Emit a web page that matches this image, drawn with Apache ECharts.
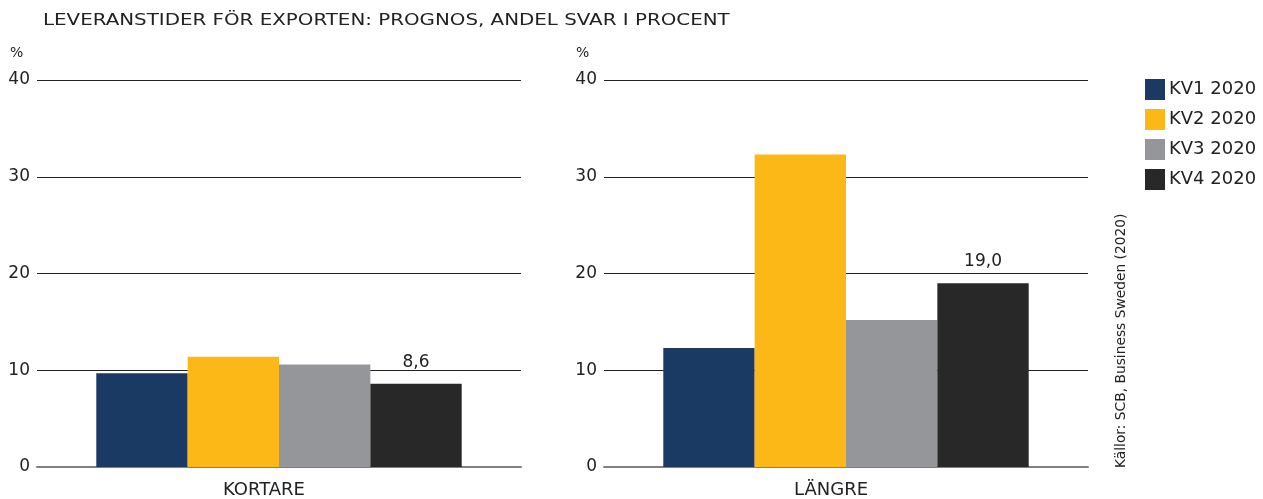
<!DOCTYPE html>
<html>
<head>
<meta charset="utf-8">
<script src="https://cdn.jsdelivr.net/npm/echarts@6/dist/echarts.min.js"></script>
<style>
  html, body { margin: 0; padding: 0; background: #fff; }
  #chart { width: 1263px; height: 499px; }
</style>
</head>
<body>
<div id="chart"></div>
<script>
// data
var seriesNames = ['KV1 2020', 'KV2 2020', 'KV3 2020', 'KV4 2020'];
var colors = ['#1a3a64', '#fbb817', '#959699', '#282828'];
var kortare = [9.7, 11.4, 10.6, 8.6];
var langre = [12.3, 32.3, 15.2, 19.0];
var panels = ['KORTARE', 'LÄNGRE'];
var labelSeries = 3; // bara KV4 har etikett

var font = 'DejaVu Sans';

function yAxis(i) {
  return {
    gridIndex: i, min: 0, max: 40, interval: 10,
    axisLine: { show: false }, axisTick: { show: false },
    axisLabel: { color: '#222', fontSize: 17, fontFamily: font, margin: 7, padding: [2, 0, 0, 0] },
    splitLine: { lineStyle: { color: '#222', width: 1 } }
  };
}
function xAxis(i) {
  return {
    type: 'category', gridIndex: i, data: [panels[i]],
    axisLine: { lineStyle: { color: '#808080', width: 2 } },
    axisTick: { show: false },
    axisLabel: { color: '#222', fontSize: 18, fontFamily: font, margin: 14, padding: [0, 30, 0, 0] }
  };
}

var series = [];
[kortare, langre].forEach(function (vals, p) {
  for (var i = 0; i < seriesNames.length; i++) {
    series.push({
      name: seriesNames[i], type: 'bar',
      xAxisIndex: p, yAxisIndex: p,
      data: [vals[i]],
      barGap: 0, barCategoryGap: '24.5%',
      itemStyle: { color: colors[i] },
      label: {
        show: i === labelSeries, position: 'top', distance: 13,
        color: '#222', fontSize: 17, fontFamily: font,
        formatter: function (d) { return d.value.toFixed(1).replace('.', ','); }
      }
    });
  }
});

var chart = echarts.init(document.getElementById('chart'));
chart.setOption({
  animation: false,
  color: colors,
  grid: [
    { left: 37, right: 742, top: 80, bottom: 31 },
    { left: 604, right: 175, top: 80, bottom: 31 }
  ],
  xAxis: [xAxis(0), xAxis(1)],
  yAxis: [yAxis(0), yAxis(1)],
  legend: {
    data: seriesNames, orient: 'vertical', left: 1140, top: 74,
    itemWidth: 20, itemHeight: 21, itemGap: 9, icon: 'rect',
    textStyle: { color: '#222', fontSize: 18, fontFamily: font, padding: [0, 0, 0, -1] }
  },
  graphic: [
    { type: 'text', x: 43, y: 13, scaleX: 1.24,
      style: { text: 'LEVERANSTIDER FÖR EXPORTEN: PROGNOS, ANDEL SVAR I PROCENT', fill: '#222', fontSize: 16, fontFamily: font } },
    { type: 'text', left: 10, top: 46, style: { text: '%', fill: '#222', fontSize: 14, fontFamily: font } },
    { type: 'text', left: 576, top: 46, style: { text: '%', fill: '#222', fontSize: 14, fontFamily: font } },
    { type: 'text', x: 1114, y: 468, rotation: Math.PI / 2,
      style: { text: 'Källor: SCB, Business Sweden (2020)', fill: '#222', fontSize: 13.8, fontFamily: font, align: 'left', verticalAlign: 'top' } }
  ],
  series: series
});
</script>
</body>
</html>
